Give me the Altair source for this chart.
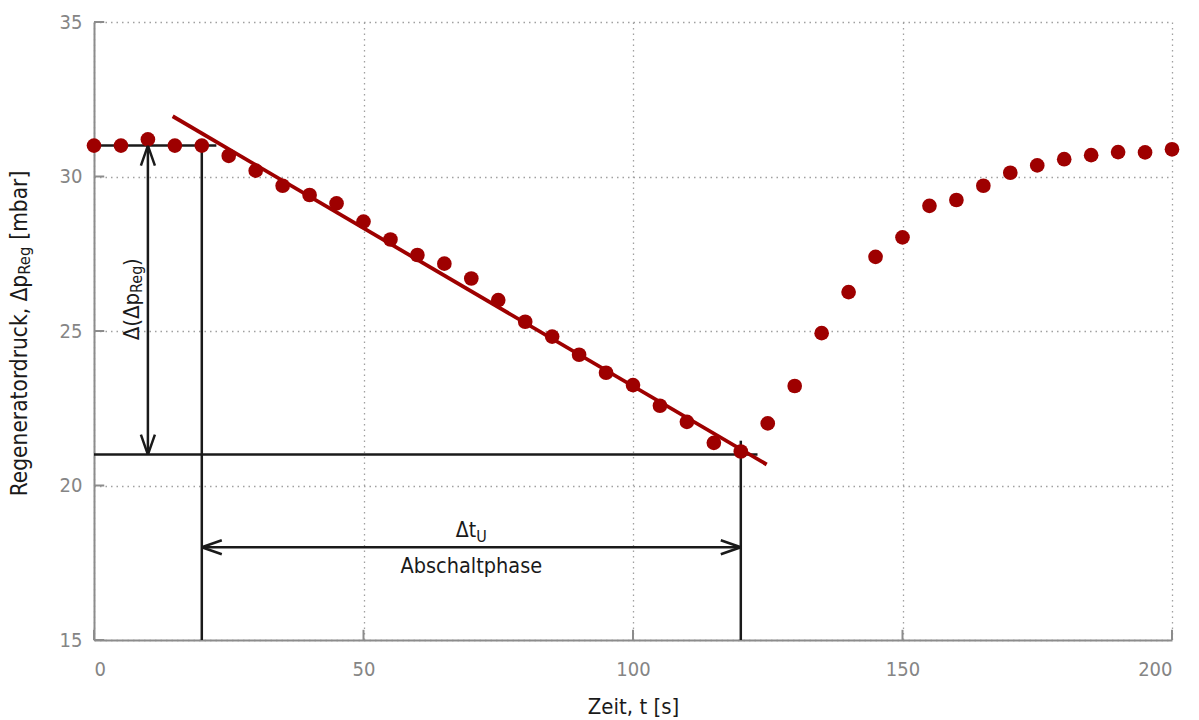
import altair as alt
import pandas as pd

# ---------------- data ----------------
t_vals = list(range(0, 201, 5))
p_vals = [31.00, 31.00, 31.20, 31.00, 31.00, 30.67, 30.19, 29.70, 29.40, 29.13, 28.54,
          27.96, 27.46, 27.18, 26.70, 26.00, 25.30, 24.82, 24.23, 23.65, 23.25,
          22.58, 22.06, 21.38, 21.10, 22.01, 23.22, 24.93, 26.26, 27.40, 28.03,
          29.05, 29.24, 29.70, 30.12, 30.36, 30.56, 30.69, 30.79, 30.78, 30.88]

fit_t = [14.6, 124.8]
fit_p = [31.95, 20.68]

# helper segments (x1, x2, y1, y2)
seg_x1 = [0, 0, 20, 120, 10, 20]
seg_x2 = [22.7, 123.1, 20, 120, 10, 120]
seg_y1 = [31.0, 21.0, 31.0, 21.45, 31.0, 18.0]
seg_y2 = [31.0, 21.0, 15.0, 15.0, 21.0, 18.0]

arrow_t = [10, 10, 20, 120]
arrow_p = [31.0, 21.0, 18.0, 18.0]
arrow_dir = ["up", "down", "left", "right"]

x_ticks = [0, 50, 100, 150, 200]
y_ticks = [15, 20, 25, 30, 35]

FONT = "DejaVu Sans Condensed, DejaVu Sans"
RED = "#9E0000"
AXIS_GREY = "#8c8c8c"
INK = "#1a1a1a"

xs = alt.Scale(domain=[0, 200], nice=False)
ys = alt.Scale(domain=[15, 35], nice=False)
x_axis = alt.Axis(values=x_ticks, title="Zeit, t [s]", titlePadding=17)
y_axis = alt.Axis(values=y_ticks, title=None)


def X(field):
    return alt.X(field, type="quantitative", scale=xs, axis=x_axis)


def Y(field):
    return alt.Y(field, type="quantitative", scale=ys, axis=y_axis)


pts = pd.DataFrame({"t": t_vals, "p": p_vals})
fit = pd.DataFrame({"t": fit_t, "p": fit_p})
segs = pd.DataFrame({"x1": seg_x1, "x2": seg_x2, "y1": seg_y1, "y2": seg_y2})
arrows = pd.DataFrame({"t": arrow_t, "p": arrow_p, "dir": arrow_dir})

# inward tick marks
xt = pd.DataFrame({"x": x_ticks, "y1": [15] * 5, "y2": [15.33] * 5})
yt = pd.DataFrame({"y": y_ticks, "x1": [0] * 5, "x2": [1.9] * 5})

tick_x = alt.Chart(xt).mark_rule(color=AXIS_GREY, strokeWidth=2).encode(
    x=X("x"), y=Y("y1"), y2="y2:Q")
tick_y = alt.Chart(yt).mark_rule(color=AXIS_GREY, strokeWidth=2).encode(
    y=Y("y"), x=X("x1"), x2="x2:Q")

lines = alt.Chart(segs).mark_rule(color=INK, strokeWidth=2.5).encode(
    x=X("x1"), x2="x2:Q", y=Y("y1"), y2="y2:Q")

fit_line = alt.Chart(fit).mark_line(color=RED, strokeWidth=3.8).encode(
    x=X("t"), y=Y("p"))

dots = alt.Chart(pts).mark_circle(size=215, color=RED, opacity=1).encode(
    x=X("t"), y=Y("p"))

arrow_paths = ["M0,0L-0.7,2M0,0L0.7,2", "M0,0L-0.7,-2M0,0L0.7,-2",
               "M0,0L2,-0.7M0,0L2,0.7", "M0,0L-2,-0.7M0,0L-2,0.7"]
heads = alt.Chart(arrows).mark_point(filled=False, stroke=INK, strokeWidth=2.5,
                                     size=400, opacity=1).encode(
    x=X("t"), y=Y("p"),
    shape=alt.Shape("dir:N", scale=alt.Scale(domain=arrow_dir, range=arrow_paths), legend=None))


def txt(df, **mk):
    return alt.Chart(df).mark_text(font=FONT, color=INK, **mk)


ann_main = pd.DataFrame({"t": [70.9], "p": [18.33], "s": ["Δt"]})
ann_sub = pd.DataFrame({"t": [70.9], "p": [18.33], "s": ["U"]})
ann_ab = pd.DataFrame({"t": [70.0], "p": [17.18], "s": ["Abschaltphase"]})

t1 = txt(ann_main, align="right", baseline="alphabetic", fontSize=21).encode(
    x=X("t"), y=Y("p"), text="s:N")
t2 = txt(ann_sub, align="left", baseline="alphabetic", fontSize=16, dy=5).encode(
    x=X("t"), y=Y("p"), text="s:N")
t3 = txt(ann_ab, align="center", baseline="alphabetic", fontSize=21.5).encode(
    x=X("t"), y=Y("p"), text="s:N")

# rotated delta label
rot_a = pd.DataFrame({"t": [7.0], "p": [26.23], "s": ["Δ(Δp"]})
rot_b = pd.DataFrame({"t": [7.0], "p": [26.23], "s": ["Reg"]})
rot_c = pd.DataFrame({"t": [7.0], "p": [26.23], "s": [")"]})
r1 = txt(rot_a, angle=270, align="right", baseline="middle", fontSize=22).encode(
    x=X("t"), y=Y("p"), text="s:N")
r2 = txt(rot_b, angle=270, align="left", baseline="middle", fontSize=16, dy=5).encode(
    x=X("t"), y=Y("p"), text="s:N")
r3 = txt(rot_c, angle=270, align="left", baseline="middle", fontSize=22, dx=27).encode(
    x=X("t"), y=Y("p"), text="s:N")

# y axis title built from parts (for the subscript)
yt_a = pd.DataFrame({"p": [26.82], "s": ["Regeneratordruck, Δp"]})
yt_b = pd.DataFrame({"p": [26.82], "s": ["Reg"]})
yt_c = pd.DataFrame({"p": [26.82], "s": ["[mbar]"]})
y1 = txt(yt_a, angle=270, align="right", baseline="middle", fontSize=22.5).encode(
    x=alt.value(-74), y=Y("p"), text="s:N")
y2 = txt(yt_b, angle=270, align="left", baseline="middle", fontSize=16.5, dy=5).encode(
    x=alt.value(-74), y=Y("p"), text="s:N")
y3 = txt(yt_c, angle=270, align="left", baseline="middle", fontSize=22.5, dx=35).encode(
    x=alt.value(-74), y=Y("p"), text="s:N")

chart = alt.layer(
    tick_x, tick_y, lines, fit_line, dots, heads,
    t1, t2, t3, r1, r2, r3, y1, y2, y3
).properties(
    width=1078, height=618,
    padding={"left": 94, "top": 22, "right": 27, "bottom": 80},
    autosize=alt.AutoSizeParams(type="none"),
    background="white",
).configure_view(
    strokeWidth=0
).configure_axis(
    domainColor=AXIS_GREY, domainWidth=2, ticks=False,
    grid=True, gridColor="#a0a0a0", gridDash=[1.5, 4], gridWidth=1.3,
    labelColor="#858585", labelFontSize=20, labelFont=FONT,
    titleFont=FONT, titleFontSize=22, titleFontWeight="normal", titleColor=INK,
).configure_axisX(
    labelPadding=19,
).configure_axisY(
    labelPadding=12,
)

chart.save("out.html", embed_options={"renderer": "svg", "actions": False})
